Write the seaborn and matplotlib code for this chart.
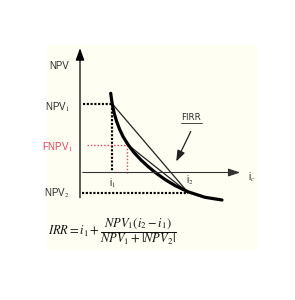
import matplotlib
matplotlib.use("Agg")
import matplotlib.pyplot as plt
import seaborn as sns
import pandas as pd

sns.set_theme(style="white")
plt.rcParams['font.family'] = ['Liberation Sans', 'DejaVu Sans']
plt.rcParams['mathtext.fontset'] = 'stix'

# ---- data (interest rate i, NPV) ----
curve_i = [3.07, 3.2, 3.4, 3.65, 3.95, 4.3, 4.8, 5.4, 6.1, 6.8, 7.5, 8.5, 9.5, 10.8, 12.5, 14.2]
curve_npv = [7.92, 7.0, 6.0, 5.15, 4.35, 3.6, 2.8, 2.0, 1.25, 0.6, 0.02, -0.7, -1.3, -1.93, -2.48, -2.75]

i1, i2, i_f = 3.2, 10.8, 4.75
npv1, npv2, fnpv1 = 6.9, -2.0, 2.8

labels_y = ["NPV", "NPV$_1$", "FNPV$_1$", "NPV$_2$"]
label_i = ["i$_1$", "i$_2$", "i$_c$"]
firr_label = "FIRR"
formula = r"$IRR=i_1+\dfrac{NPV_1(i_2-i_1)}{NPV_1+|NPV_2|}$"

cream = "#fefef3"
red = "#e8405c"
txt = "#2a2a2a"

fig = plt.figure(figsize=(2.95, 3.0), dpi=100)
fig.patch.set_facecolor("white")
ax = fig.add_axes([47 / 295, 50 / 300, 211 / 295, 205 / 300])
ax.set_facecolor(cream)
for s in ax.spines.values():
    s.set_visible(False)
ax.set_xticks([])
ax.set_yticks([])
ax.set_xlim(-3.3, 17.8)
ax.set_ylim(-7.75, 12.75)

# axes arrows
ax.annotate("", xy=(0, 12.7), xytext=(0, -2.8),
            arrowprops=dict(arrowstyle="-|>,head_length=0.6,head_width=0.22", color="black", lw=0.9))
ax.annotate("", xy=(16.3, 0), xytext=(0, 0),
            arrowprops=dict(arrowstyle="-|>,head_length=0.6,head_width=0.2", color="#333333", lw=0.8))

# dotted guide lines
dot_kw = dict(color="black", lw=1.55, linestyle=(0, (1, 0.75)), dash_capstyle="butt")
ax.plot([0.3, i1], [npv1, npv1], **dot_kw)
ax.plot([i1, i1], [npv1, 0.2], **dot_kw)
ax.plot([0.2, i2], [npv2, npv2], **dot_kw)
red_kw = dict(color=red, lw=1.0, linestyle=(0, (1, 1.4)), dash_capstyle="butt")
ax.plot([0.7, i_f], [fnpv1, fnpv1], **red_kw)
ax.plot([i_f, i_f], [fnpv1, 0.0], **red_kw)

# chords
chords = pd.DataFrame({"i": [i1, i2, i_f, i2], "npv": [npv1, npv2, fnpv1, npv2],
                       "seg": ["a", "a", "b", "b"]})
sns.lineplot(data=chords, x="i", y="npv", units="seg", estimator=None,
             color="#222222", lw=0.9, ax=ax, sort=False)

# NPV curve
sns.lineplot(x=curve_i, y=curve_npv, ax=ax, color="black", lw=2.3, sort=False)
ax.lines[-1].set_solid_joinstyle("round")
ax.set_xlabel("")
ax.set_ylabel("")

# FIRR annotation
ax.annotate("", xy=(9.5, 0.85), xytext=(11.2, 4.35),
            arrowprops=dict(arrowstyle="-|>,head_length=0.55,head_width=0.2", color="#222222", lw=0.9))
ax.text(11.1, 5.55, firr_label, ha="center", va="center", fontsize=6.3, color=txt,
        family=["DejaVu Sans"])
ax.plot([10.1, 12.2], [5.0, 5.0], color=txt, lw=0.6)

# labels
fs = 7
ax.text(-2.1, 10.65, labels_y[0], ha="center", va="center", fontsize=fs, color=txt)
ax.text(-2.3, 6.55, labels_y[1], ha="center", va="center", fontsize=fs, color=txt)
ax.text(-2.3, 2.55, labels_y[2], ha="center", va="center", fontsize=fs, color=red)
ax.text(-2.3, -2.05, labels_y[3], ha="center", va="center", fontsize=fs, color=txt)
ax.text(i1, -1.05, label_i[0], ha="center", va="center", fontsize=fs, color=txt)
ax.text(i2 + 0.2, -0.75, label_i[1], ha="center", va="center", fontsize=fs, color=txt)
ax.text(17.2, -0.45, label_i[2], ha="center", va="center", fontsize=fs, color=txt)

# formula
ax.text(3.2, -5.95, formula, ha="center", va="center", fontsize=9, color="#111111")

fig.savefig("out.png", dpi=100, facecolor="white")
